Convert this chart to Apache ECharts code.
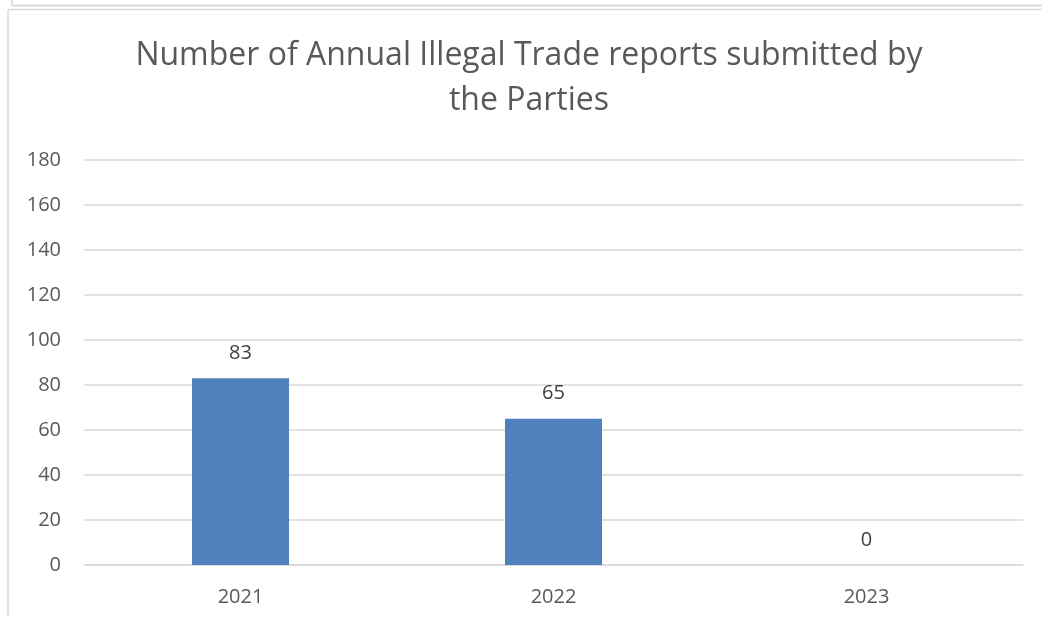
<!DOCTYPE html>
<html>
<head>
    <meta charset="utf-8">
    <title>ECharts</title>
    <script src="https://cdn.jsdelivr.net/npm/echarts@6/dist/echarts.min.js"></script>
    <style>
        html, body { margin: 0; padding: 0; background: #fff; }
    </style>
</head>
<body>
    <div id="main" style="width: 1042px;height:617px;"></div>
    <script type="text/javascript">
        // data
        var years = ['2021', '2022', '2023'];
        var reports = [83, 65, 0];
        var yTicks = { min: 0, max: 180, step: 20 };

        var chart = echarts.init(document.getElementById('main'));
        chart.setOption({
            animation: false,
            textStyle: { fontFamily: 'Open Sans' },
            title: {
                text: 'Number of Annual Illegal Trade reports submitted by\nthe Parties',
                left: 524,
                top: 28,
                textAlign: 'center',
                textStyle: {
                    fontFamily: 'Open Sans',
                    fontWeight: 'normal',
                    fontSize: 32,
                    lineHeight: 45,
                    color: '#595959'
                }
            },
            // frame lines like the pasted screenshot
            graphic: [
                { type: 'line', shape: { x1: 12, y1: 5.5, x2: 1042, y2: 5.5 }, style: { stroke: '#d9d9d9', lineWidth: 2 } },
                { type: 'line', shape: { x1: 12, y1: 0, x2: 12, y2: 6 }, style: { stroke: '#d9d9d9', lineWidth: 1.5 } },
                { type: 'line', shape: { x1: 8, y1: 9.5, x2: 1042, y2: 9.5 }, style: { stroke: '#d9d9d9', lineWidth: 1.5 } },
                { type: 'line', shape: { x1: 8, y1: 9.5, x2: 8, y2: 617 }, style: { stroke: '#d9d9d9', lineWidth: 1.5 } }
            ],
            grid: {
                left: 84,
                right: 19,
                top: 160,
                bottom: 52,
                containLabel: false
            },
            xAxis: {
                type: 'category',
                data: years,
                axisTick: { show: false },
                axisLine: { lineStyle: { color: '#d9d9d9', width: 1.5 } },
                axisLabel: { fontSize: 20, color: '#595959', margin: 22 }
            },
            yAxis: {
                type: 'value',
                min: yTicks.min,
                max: yTicks.max,
                interval: yTicks.step,
                axisLine: { show: false },
                axisTick: { show: false },
                splitLine: { lineStyle: { color: '#d9d9d9', width: 1.5 } },
                axisLabel: { fontSize: 20, color: '#595959', margin: 23 }
            },
            series: [{
                type: 'bar',
                data: reports,
                barWidth: '31%',
                itemStyle: { color: '#4f81bd' },
                label: {
                    show: true,
                    position: 'top',
                    distance: 15,
                    fontSize: 20,
                    color: '#404040'
                }
            }]
        });
    </script>
</body>
</html>
